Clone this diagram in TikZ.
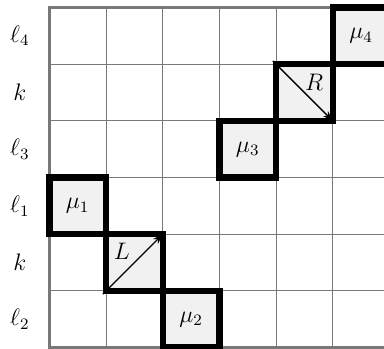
\documentclass[tikz,border=0pt]{standalone}
\usepackage{amsmath, amssymb}
\usepackage{tikz}
\usetikzlibrary{arrows.meta}
\definecolor{gridA}{RGB}{120,120,120}
\definecolor{cellA}{RGB}{241,241,241}

\begin{document}
\begin{tikzpicture}[x=1cm, y=1cm, font=\large,
    cellbox/.style={draw=black, fill=cellA, line width=3.2pt, minimum size=1cm, inner sep=0pt},
    diagarrow/.style={-{Stealth[length=5pt, width=3.5pt]}, line width=0.7pt, shorten >=2.4pt},
    rowlab/.style={anchor=center}]
  \useasboundingbox (-0.87,-0.02) rectangle (5.903,6.132);
  \draw[gridA, line width=0.5pt] (0,0) grid (6,6);
  \draw[gridA, line width=1.3pt] (0,0) rectangle (6,6);
  % row labels
  \node[rowlab] (lfour) at (-0.52,5.5) {$\ell_4$};
  \node[rowlab] (kup) at (-0.52,4.5) {$k$};
  \node[rowlab] (lthree) at (-0.52,3.5) {$\ell_3$};
  \node[rowlab] (lone) at (-0.52,2.5) {$\ell_1$};
  \node[rowlab] (kdown) at (-0.52,1.5) {$k$};
  \node[rowlab] (ltwo) at (-0.52,0.5) {$\ell_2$};
  % highlighted cells
  \node[cellbox] (muone) at (0.5,2.5) {$\mu_1$};
  \node[cellbox] (cellL) at (1.5,1.5) {};
  \node[cellbox] (mutwo) at (2.5,0.5) {$\mu_2$};
  \node[cellbox] (muthree) at (3.5,3.5) {$\mu_3$};
  \node[cellbox] (cellR) at (4.5,4.5) {};
  \node[cellbox] (mufour) at (5.5,5.5) {$\mu_4$};
  \draw[diagarrow] (cellL.south west) -- (cellL.north east);
  \draw[diagarrow] (cellR.north west) -- (cellR.south east);
  \node (labL) at (1.28,1.70) {$L$};
  \node (labR) at (4.67,4.68) {$R$};
\end{tikzpicture}
\end{document}
